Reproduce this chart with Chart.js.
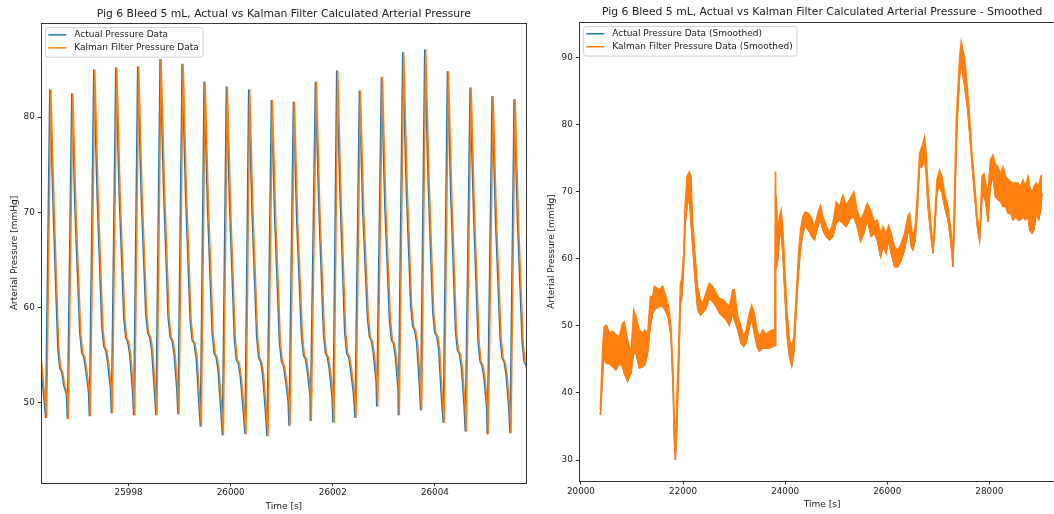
<!DOCTYPE html>
<html>
<head>
<meta charset="utf-8">
<title>Pig 6 Bleed 5 mL - Actual vs Kalman Filter Arterial Pressure</title>
<script src="https://cdn.jsdelivr.net/npm/chart.js@4.4.1/dist/chart.umd.min.js"></script>
<style>
    html, body { margin: 0; padding: 0; background: #fff; }
    #page { position: relative; width: 1054px; height: 514px; overflow: hidden; }
    #raw-chart { position: absolute; left: 0; top: 0; }
    #smooth-chart { position: absolute; left: 540px; top: 0; }
</style>
</head>
<body>
<div id="page">
    <canvas id="raw-chart" width="540" height="514"></canvas>
    <canvas id="smooth-chart" width="525" height="514"></canvas>
</div>
<script>
/* ── Left panel: one beat per entry (Kalman trace times, seconds) ── */
var beatTroughT = [25996.396, 25996.821, 25997.252, 25997.683, 25998.120, 25998.556, 25998.987, 25999.426,
                   25999.857, 26000.300, 26000.731, 26001.162, 26001.579, 26002.024, 26002.455, 26002.880,
                   26003.303, 26003.740, 26004.184, 26004.615, 26005.046, 26005.491];
var beatTroughV = [48.4, 48.3, 48.6, 48.9, 48.7, 48.7, 48.8, 47.5, 46.6, 46.7, 46.5,
                   47.6, 48.1, 47.9, 48.4, 49.6, 48.7, 49.2, 47.9, 47.0, 46.7, 46.8];
var beatPeakT = [25996.476, 25996.907, 25997.338, 25997.769, 25998.198, 25998.637, 25999.068, 25999.499,
                 25999.935, 26000.372, 26000.817, 26001.248, 26001.679, 26002.096, 26002.541, 26002.972,
                 26003.389, 26003.820, 26004.265, 26004.709, 26005.140, 26005.571];
var beatPeakV = [82.9, 82.5, 85.0, 85.2, 85.3, 86.1, 85.6, 83.7, 83.2, 82.9, 81.8,
                 81.6, 83.7, 84.9, 82.8, 84.2, 86.8, 87.1, 84.8, 83.1, 82.2, 81.9];
var beatShoulderV = [70.2, 69.5, 71.5, 71.8, 72.0, 72.5, 72.0, 70.5, 70.0, 69.8, 69.0,
                     68.8, 70.5, 71.5, 69.8, 70.6, 73.0, 73.3, 71.5, 70.0, 69.2, 69.0];
var beatNotchV = [53.6, 55.2, 55.9, 56.8, 57.3, 56.9, 56.6, 55.2, 54.5, 54.7, 54.3,
                  55.0, 55.2, 55.2, 56.9, 56.6, 58.0, 57.4, 55.5, 54.3, 54.7, 54.3];

// tail of the beat that started before the window
var leadInT = [25996.20, 25996.29];
var leadInV = [55.6, 54.5];

// falling limb traced on beat 16: seconds after the peak, and offsets from its notch / next trough
var shoulderDelay = 0.067, kneeDelay = 0.157, notchDelay = 0.196, plateauDelay = 0.235;
var lateDelay = 0.274, sinkDelay = 0.327;
var kneeRise = 2.1, plateauDrop = 0.4, lateDrop = 1.8, sinkRise = 2.6;
var kalmanLag = 0.02;   // orange trails blue by about one pixel

var rawXTicks = [25998, 26000, 26002, 26004];
var rawYTicks = [50, 60, 70, 80];

/* ── Right panel: smoothed trace, band edges of the orange trace ── */
var smoothT = [20378, 20400, 20430, 20457, 20503, 20555, 20620, 20686, 20751, 20816,
               20849, 20914, 20980, 21032, 21078, 21143, 21209, 21254, 21307, 21359,
               21405, 21437, 21535, 21601, 21666, 21718, 21764, 21803, 21829, 21849,
               21875, 21908, 21934, 21947, 21973, 22012, 22039, 22078, 22124, 22156,
               22189, 22235, 22287, 22339, 22385, 22450, 22516, 22581, 22647, 22712,
               22777, 22843, 22908, 22973, 23006, 23071, 23137, 23189, 23235, 23300,
               23346, 23398, 23450, 23496, 23562, 23627, 23692, 23758, 23795, 23808,
               23815, 23830, 23856, 23888, 23921, 23954, 23986, 24039, 24084, 24130,
               24169, 24215, 24261, 24300, 24346, 24392, 24457, 24522, 24575, 24640,
               24692, 24738, 24803, 24869, 24934, 25000, 25065, 25130, 25196, 25261,
               25346, 25411, 25477, 25542, 25607, 25686, 25751, 25803, 25869, 25915,
               25980, 26026, 26078, 26143, 26209, 26274, 26339, 26404, 26437, 26470,
               26503, 26548, 26587, 26633, 26679, 26731, 26764, 26797, 26849, 26895,
               26927, 26973, 27025, 27071, 27123, 27189, 27241, 27287, 27320, 27352,
               27385, 27418, 27450, 27483, 27516, 27568, 27614, 27659, 27712, 27764,
               27810, 27855, 27895, 27940, 27973, 28019, 28071, 28117, 28169, 28221,
               28267, 28320, 28365, 28418, 28463, 28509, 28561, 28614, 28659, 28705,
               28757, 28790, 28836, 28875, 28921, 28967, 29006, 29032];
var smoothLo = [36.7, 39.0, 43.5, 45.4, 44.4, 44.4, 43.9, 43.4, 44.4, 43.9,
                42.9, 41.7, 42.9, 45.9, 45.9, 43.7, 43.9, 44.2, 45.9, 49.9,
                51.9, 52.4, 52.9, 52.9, 52.1, 50.9, 48.4, 40.9, 33.0, 30.0,
                33.5, 41.9, 48.9, 53.4, 53.9, 58.8, 64.8, 67.8, 69.3, 65.3,
                61.8, 56.9, 52.4, 51.6, 51.9, 52.6, 54.1, 53.6, 52.9, 51.9,
                51.4, 50.9, 50.1, 51.9, 50.9, 49.4, 47.4, 46.9, 47.4, 49.9,
                50.9, 48.9, 46.9, 46.2, 46.7, 46.7, 46.7, 46.9, 47.2, 47.0,
                62.0, 58.8, 59.8, 63.3, 63.8, 60.8, 55.9, 48.4, 45.4, 44.0,
                45.9, 51.9, 57.8, 61.3, 63.8, 64.8, 64.3, 63.3, 62.8, 64.8,
                65.8, 64.3, 63.3, 62.8, 63.3, 65.3, 65.8, 65.3, 64.8, 65.8,
                66.3, 64.8, 62.6, 63.8, 65.8, 63.3, 63.8, 62.8, 60.3, 61.8,
                60.8, 62.8, 60.8, 58.8, 58.8, 59.8, 61.3, 63.8, 64.3, 61.8,
                61.3, 62.8, 66.8, 73.7, 73.7, 74.7, 72.7, 67.8, 63.8, 60.8,
                63.8, 69.8, 70.8, 69.8, 67.8, 65.8, 62.8, 58.8, 65.8, 76.7,
                82.7, 87.2, 89.1, 87.2, 85.7, 82.7, 78.7, 74.2, 69.3, 64.8,
                62.6, 68.8, 69.8, 67.8, 65.5, 70.8, 72.3, 69.3, 68.8, 68.5,
                67.8, 67.8, 66.8, 66.8, 65.8, 66.3, 65.8, 65.8, 66.3, 65.8,
                66.3, 64.3, 63.8, 64.3, 66.8, 65.8, 67.3, 69.8];
var smoothHi = [37.5, 42.0, 47.5, 49.9, 50.1, 48.9, 49.2, 48.7, 48.4, 50.4,
                50.6, 47.9, 45.9, 52.4, 51.4, 49.4, 48.9, 49.4, 48.9, 54.4,
                54.4, 55.9, 55.4, 55.9, 54.4, 52.9, 49.9, 43.4, 36.0, 31.0,
                38.5, 45.9, 52.4, 56.4, 56.9, 60.8, 67.8, 72.3, 73.0, 72.3,
                65.8, 60.8, 55.9, 53.9, 53.4, 54.9, 56.4, 55.9, 54.9, 54.1,
                53.9, 53.4, 52.9, 55.4, 55.4, 51.6, 49.9, 48.4, 49.4, 51.9,
                53.1, 51.9, 49.4, 48.4, 49.4, 48.7, 49.2, 49.4, 49.4, 73.0,
                70.0, 68.8, 63.8, 66.3, 67.3, 64.8, 59.8, 51.9, 47.9, 46.9,
                48.4, 54.4, 60.8, 64.3, 66.3, 67.0, 66.8, 66.0, 64.8, 66.8,
                68.0, 66.3, 65.0, 63.8, 65.3, 68.5, 67.8, 69.5, 68.0, 68.8,
                70.0, 67.3, 65.8, 66.8, 68.3, 67.0, 65.5, 65.8, 63.8, 64.8,
                63.8, 65.0, 63.8, 61.8, 61.3, 62.3, 63.8, 66.3, 66.8, 64.8,
                63.3, 64.8, 69.3, 75.7, 76.7, 78.2, 75.7, 70.8, 65.8, 61.8,
                65.8, 71.8, 73.2, 72.3, 69.8, 67.8, 64.8, 60.8, 70.8, 80.7,
                85.7, 90.1, 92.4, 91.1, 90.1, 85.7, 81.2, 75.7, 71.3, 66.3,
                63.8, 72.3, 72.7, 70.8, 69.8, 74.7, 75.5, 74.2, 73.7, 72.7,
                73.7, 72.3, 71.8, 71.5, 71.3, 71.3, 71.3, 70.8, 71.8, 70.8,
                72.3, 70.8, 69.8, 70.8, 71.3, 70.8, 72.3, 72.5];

var smoothXTicks = [20000, 22000, 24000, 26000, 28000];
var smoothYTicks = [30, 40, 50, 60, 70, 80, 90];

var BLUE = '#1f77b4';
var ORANGE = '#ff7f0e';
var INK = '#222';

Chart.defaults.font.family = '"DejaVu Sans", sans-serif';
Chart.defaults.color = INK;

/* ── build the raw beat trace; shift moves the whole trace in time ── */
function buildRawSeries(shift) {
    var pts = [];
    for (var i = 0; i < leadInT.length; i++) pts.push({ x: leadInT[i] + shift, y: leadInV[i] });
    for (var b = 0; b < beatPeakT.length; b++) {
        var p = beatPeakT[b] + shift;
        var n = beatNotchV[b];
        pts.push({ x: beatTroughT[b] + shift, y: beatTroughV[b] });
        pts.push({ x: p, y: beatPeakV[b] });
        pts.push({ x: p + shoulderDelay, y: beatShoulderV[b] });
        pts.push({ x: p + kneeDelay, y: n + kneeRise });
        pts.push({ x: p + notchDelay, y: n });
        pts.push({ x: p + plateauDelay, y: n - plateauDrop });
        pts.push({ x: p + lateDelay, y: n - lateDrop });
        if (b + 1 < beatPeakT.length) pts.push({ x: p + sinkDelay, y: beatTroughV[b + 1] + sinkRise });
    }
    return pts;
}

function zipXY(xs, ys) {
    return xs.map(function (x, i) { return { x: x, y: ys[i] }; });
}

/* ── matplotlib-like frame around the plot area ── */
var axesFrame = {
    id: 'axesFrame',
    afterDatasetsDraw: function (chart) {
        var a = chart.chartArea, ctx = chart.ctx;
        ctx.save();
        ctx.strokeStyle = '#333';
        ctx.lineWidth = 1;
        ctx.strokeRect(Math.round(a.left) + 0.5, Math.round(a.top) + 0.5,
                       Math.round(a.right) - Math.round(a.left), Math.round(a.bottom) - Math.round(a.top));
        ctx.restore();
    }
};

/* ── legend box in the upper-left corner of the plot area ── */
var boxLegend = {
    id: 'boxLegend',
    afterDraw: function (chart, args, opts) {
        if (!opts.items) return;
        var a = chart.chartArea, ctx = chart.ctx;
        ctx.save();
        ctx.font = '9px "DejaVu Sans"';
        var textW = 0;
        opts.items.forEach(function (it) { textW = Math.max(textW, ctx.measureText(it.label).width); });
        var x0 = a.left + 4.3, y0 = a.top + 4.5, w = 29 + textW + 4, h = 29.5, r = 2.5;
        ctx.beginPath();
        ctx.moveTo(x0 + r, y0);
        ctx.arcTo(x0 + w, y0, x0 + w, y0 + h, r);
        ctx.arcTo(x0 + w, y0 + h, x0, y0 + h, r);
        ctx.arcTo(x0, y0 + h, x0, y0, r);
        ctx.arcTo(x0, y0, x0 + w, y0, r);
        ctx.closePath();
        ctx.fillStyle = 'rgba(255,255,255,0.8)';
        ctx.fill();
        ctx.strokeStyle = '#d0d0d0';
        ctx.lineWidth = 1;
        ctx.stroke();
        opts.items.forEach(function (it, i) {
            var y = y0 + 7.2 + i * 13;
            ctx.strokeStyle = it.color;
            ctx.lineWidth = 1.5;
            ctx.beginPath();
            ctx.moveTo(x0 + 2.7, y);
            ctx.lineTo(x0 + 20.7, y);
            ctx.stroke();
            ctx.fillStyle = INK;
            ctx.textBaseline = 'middle';
            ctx.fillText(it.label, x0 + 28.7, y);
        });
        ctx.restore();
    }
};

function makeOptions(cfg) {
    return {
        responsive: false,
        animation: false,
        events: [],
        layout: { padding: { left: 0, right: cfg.padRight, top: 0, bottom: 0 } },
        elements: { point: { radius: 0 }, line: { tension: 0 } },
        plugins: {
            legend: { display: false },
            tooltip: { enabled: false },
            title: {
                display: true,
                text: cfg.title,
                fullSize: false,
                color: INK,
                font: { size: 10.8, weight: 'normal', lineHeight: 1.2 },
                padding: { top: cfg.titleTop, bottom: cfg.titleBottom }
            },
            boxLegend: { items: cfg.legend }
        },
        scales: {
            x: {
                type: 'linear',
                min: cfg.xMin,
                max: cfg.xMax,
                afterBuildTicks: function (scale) {
                    scale.ticks = cfg.xTicks.map(function (v) { return { value: v }; });
                },
                afterFit: function (scale) { scale.height = cfg.xAxisHeight; },
                grid: { drawOnChartArea: false, drawTicks: true, tickLength: 3.5, color: '#333' },
                border: { display: false },
                ticks: {
                    maxRotation: 0,
                    autoSkip: false,
                    padding: 1.5,
                    color: INK,
                    font: { size: 8.8 },
                    callback: function (v) { return String(v); }
                },
                title: {
                    display: true,
                    text: 'Time [s]',
                    color: INK,
                    font: { size: 9, lineHeight: 1.2 },
                    padding: { top: 0, bottom: cfg.xTitlePad }
                }
            },
            y: {
                type: 'linear',
                min: cfg.yMin,
                max: cfg.yMax,
                afterBuildTicks: function (scale) {
                    scale.ticks = cfg.yTicks.map(function (v) { return { value: v }; });
                },
                afterFit: function (scale) { scale.width = cfg.yAxisWidth; },
                grid: { drawOnChartArea: false, drawTicks: true, tickLength: 3.5, color: '#333' },
                border: { display: false },
                ticks: {
                    autoSkip: false,
                    padding: 3,
                    color: INK,
                    font: { size: 8.8 },
                    callback: function (v) { return String(v); }
                },
                title: {
                    display: true,
                    text: 'Arterial Pressure [mmHg]',
                    color: INK,
                    font: { size: 9, lineHeight: 1.2 },
                    padding: { top: cfg.yTitlePad, bottom: 0 }
                }
            }
        }
    };
}

/* ── Chart A: raw beats ── */
new Chart(document.getElementById('raw-chart').getContext('2d'), {
    type: 'line',
    data: {
        datasets: [
            {
                label: 'Kalman Filter Pressure Data',
                data: buildRawSeries(0),
                borderColor: ORANGE,
                borderWidth: 1.5,
                order: 0
            },
            {
                label: 'Actual Pressure Data',
                data: buildRawSeries(-kalmanLag),
                borderColor: BLUE,
                borderWidth: 1.5,
                order: 1
            }
        ]
    },
    options: makeOptions({
        title: 'Pig 6 Bleed 5 mL, Actual vs Kalman Filter Calculated Arterial Pressure',
        padRight: 13.7, titleTop: 7.8, titleBottom: 2.4,
        xMin: 25996.29, xMax: 26005.79, yMin: 41.61, yMax: 89.86,
        xTicks: rawXTicks, yTicks: rawYTicks,
        xAxisHeight: 31.3, yAxisWidth: 41.3, xTitlePad: 2.0, yTitlePad: 8.8,
        legend: [
            { label: 'Actual Pressure Data', color: BLUE },
            { label: 'Kalman Filter Pressure Data', color: ORANGE }
        ]
    }),
    plugins: [axesFrame, boxLegend]
});

/* ── Chart B: smoothed trace (orange band drawn over the blue one) ── */
new Chart(document.getElementById('smooth-chart').getContext('2d'), {
    type: 'line',
    data: {
        datasets: [
            {
                label: 'Kalman Filter Pressure Data (Smoothed) upper',
                data: zipXY(smoothT, smoothHi),
                borderColor: ORANGE,
                borderWidth: 1.4,
                fill: false,
                order: 0
            },
            {
                label: 'Kalman Filter Pressure Data (Smoothed) lower',
                data: zipXY(smoothT, smoothLo),
                borderColor: ORANGE,
                borderWidth: 1.4,
                backgroundColor: ORANGE,
                fill: '-1',
                order: 0
            },
            {
                label: 'Actual Pressure Data (Smoothed)',
                data: zipXY(smoothT, smoothLo),
                borderColor: BLUE,
                borderWidth: 1,
                order: 1
            }
        ]
    },
    options: makeOptions({
        title: 'Pig 6 Bleed 5 mL, Actual vs Kalman Filter Calculated Arterial Pressure - Smoothed',
        padRight: 0, titleTop: 6.1, titleBottom: 3.0,
        xMin: 19968, xMax: 29482, yMin: 26.87, yMax: 95.3,
        xTicks: smoothXTicks, yTicks: smoothYTicks,
        xAxisHeight: 33, yAxisWidth: 39.3, xTitlePad: 4.4, yTitlePad: 6.6,
        legend: [
            { label: 'Actual Pressure Data (Smoothed)', color: BLUE },
            { label: 'Kalman Filter Pressure Data (Smoothed)', color: ORANGE }
        ]
    }),
    plugins: [axesFrame, boxLegend]
});
</script>
</body>
</html>
